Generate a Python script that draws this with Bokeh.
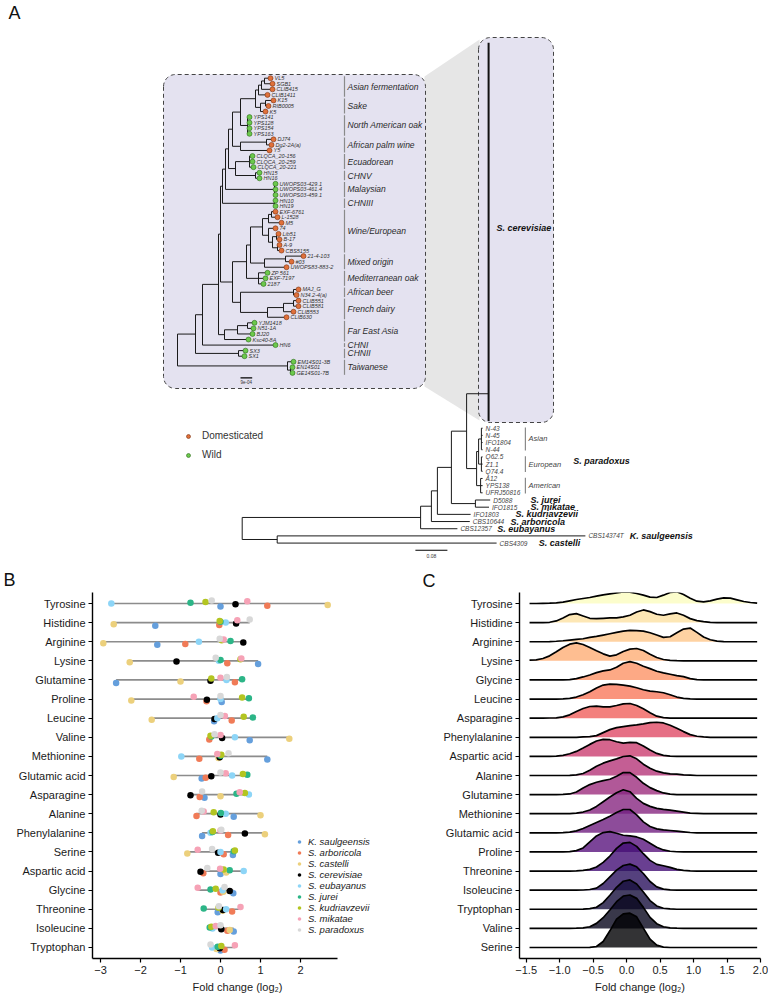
import numpy as np
from bokeh.plotting import figure
from bokeh.models import Range1d, FixedTicker, Legend, LegendItem
from bokeh.layouts import column, row
from bokeh.embed import file_html
from bokeh.resources import INLINE
from bokeh.core.properties import value
from bokeh.palettes import magma

FONT = "Liberation Sans"

# ====================== Panel A data ======================
# Inset: S. cerevisiae tree (tips top -> bottom), depth unit: 9e-04/11.7 subst/site
INSET_LEAVES = ["VL5", "SGB1", "CLIB415", "CLIB1411", "K15", "RIB0005", "K5",
                "YPS141", "YPS128", "YPS154", "YPS163", "DJ74", "Dg2-2A(a)", "Y5",
                "CLQCA_20-156", "CLQCA_20-259", "CLQCA_20-221", "HN15", "HN16",
                "UWOPS03-429.1", "UWOPS03-461.4", "UWOPS03-459.1", "HN10", "HN19",
                "EXF-6761", "L-1528", "M5", "74", "Lib51", "B-17", "A-9", "CBS5155",
                "21-4-103", "#03", "UWOPS83-883-2", "ZP 561", "EXF-7197", "2187",
                "MAJ_G", "N34.2-4(a)", "CLIB551", "CLIB581", "CLIB553", "CLIB630",
                "YJM1418", "N51-1A", "BJ20", "Ksc40-8A", "HN6", "SX3", "SX1",
                "EM14S01-3B", "EN14S01", "GE14S01-7B"]
INSET_TYPES = list("DDDDDDD" "WWWW" "DDD" "WWWWWWWWWW" "DDDDDDDDDDD" "WWW" "DDDDDD" "WWWWWWWWWW")
INSET_TIP = [93, 95, 95, 90, 96, 91, 88, 72, 72, 72, 72, 96, 94, 92, 75, 75, 76, 82, 82,
             98, 98, 98, 98, 98, 98, 100, 104, 98, 101, 102, 102, 104, 126, 114, 109,
             90, 88, 86, 121, 119, 121, 121, 116, 109, 77, 76, 75, 71, 98, 68, 67,
             116, 115, 115]
INSET_NODES = [
    ("AF1", 87, ["VL5", "SGB1"]), ("AF2", 84, ["AF1", "CLIB415"]), ("AF", 81, ["AF2", "CLIB1411"]),
    ("SK1", 88, ["K15", "RIB0005"]), ("SK", 83, ["SK1", "K5"]), ("AFS", 78, ["AF", "SK"]),
    ("NAO", 70, ["YPS141", "YPS128", "YPS154", "YPS163"]), ("ASN", 63, ["AFS", "NAO"]),
    ("APW1", 89, ["DJ74", "Dg2-2A(a)"]), ("APW", 63, ["APW1", "Y5"]), ("U1", 55, ["ASN", "APW"]),
    ("ECU", 72, ["CLQCA_20-156", "CLQCA_20-259", "CLQCA_20-221"]), ("CHNV", 78, ["HN15", "HN16"]),
    ("EC", 58, ["ECU", "CHNV"]), ("U2", 51, ["U1", "EC"]),
    ("MAL", 97, ["UWOPS03-429.1", "UWOPS03-461.4", "UWOPS03-459.1"]), ("U3", 48, ["U2", "MAL"]),
    ("CHNIII", 97, ["HN10", "HN19"]), ("U4", 45, ["U3", "CHNIII"]),
    ("W1", 94, ["EXF-6761", "L-1528"]), ("W2", 91, ["W1", "M5"]), ("W3a", 99, ["Lib51", "B-17"]),
    ("W3b", 100, ["A-9", "CBS5155"]), ("W3", 95, ["W3a", "W3b"]), ("W4", 91, ["74", "W3"]),
    ("WINE", 85, ["W2", "W4"]), ("MIX1", 108, ["21-4-103", "#03"]), ("MIX", 87, ["MIX1", "UWOPS83-883-2"]),
    ("WM", 73, ["WINE", "MIX"]), ("MED", 81, ["ZP 561", "EXF-7197", "2187"]), ("WMM", 69, ["WM", "MED"]),
    ("AB", 116, ["MAJ_G", "N34.2-4(a)"]), ("FD1", 116, ["CLIB551", "CLIB581"]),
    ("FD2", 106, ["FD1", "CLIB553"]), ("FD", 90, ["FD2", "CLIB630"]), ("ABFD", 63, ["AB", "FD"]),
    ("L1", 55, ["WMM", "ABFD"]), ("Y", 43, ["U4", "L1"]),
    ("FEA2", 70, ["YJM1418", "N51-1A"]), ("FEA1", 60, ["FEA2", "BJ20"]), ("FEA", 47, ["FEA1", "Ksc40-8A"]),
    ("X", 41, ["Y", "FEA"]), ("B202", 25, ["X", "HN6"]), ("CHNII", 61, ["SX3", "SX1"]),
    ("B195", 18, ["B202", "CHNII"]), ("TAI1", 113, ["EN14S01", "GE14S01-7B"]),
    ("TAI", 110, ["EM14S01-3B", "TAI1"]), ("ROOT", 0, ["B195", "TAI"]),
]
INSET_CLADES = [("Asian fermentation", "VL5", "CLIB1411"), ("Sake", "K15", "K5"),
                ("North American oak", "YPS141", "YPS163"), ("African palm wine", "DJ74", "Y5"),
                ("Ecuadorean", "CLQCA_20-156", "CLQCA_20-221"), ("CHNV", "HN15", "HN16"),
                ("Malaysian", "UWOPS03-429.1", "UWOPS03-459.1"), ("CHNIII", "HN10", "HN19"),
                ("Wine/European", "EXF-6761", "CBS5155"), ("Mixed origin", "21-4-103", "UWOPS83-883-2"),
                ("Mediterranean oak", "ZP 561", "2187"), ("African beer", "MAJ_G", "N34.2-4(a)"),
                ("French dairy", "CLIB551", "CLIB630"), ("Far East Asia", "YJM1418", "Ksc40-8A"),
                ("CHNI", "HN6", "HN6"), ("CHNII", "SX3", "SX1"), ("Taiwanese", "EM14S01-3B", "GE14S01-7B")]
INSET_CLADE_BAR_X = 167
INSET_SCALE = {"x": 63, "len": 11.7, "y": 53.9, "label": "9e-04"}
TYPE_NAMES = {"D": "Domesticated", "W": "Wild"}
TYPE_COLORS = {"D": ("#e0703a", "#7a3210"), "W": ("#6cc94c", "#2b6a19")}

# Main tree (substitutions/site)
MAIN_LEAVES = ["N-43", "N-45", "IFO1804", "N-44", "Q62.5", "Z1.1", "Q74.4", "A12", "YPS138",
               "UFRJ50816", "D5088", "IFO1815", "IFO1803", "CBS10644", "CBS12357", "CBS14374T", "CBS4309"]
MAIN_TIP = [0.601, 0.601, 0.601, 0.601, 0.601, 0.601, 0.601, 0.601, 0.601, 0.601,
            0.620, 0.617, 0.571, 0.569, 0.538, 0.858, 0.636]
SCER_CLADE = {"depth": 0.616, "y_top": -53.7, "y_bottom": -1.0, "stem_y": -4.8}
MAIN_NODES = [
    ("Asian", 0.598, ["N-43", "N-45", "IFO1804", "N-44"]),
    ("European", 0.598, ["Q62.5", "Z1.1", "Q74.4"]),
    ("AE", 0.591, ["Asian", "European"]),
    ("American", 0.596, ["A12", "YPS138", "UFRJ50816"]),
    ("SPAR", 0.586, ["AE", "American"]),
    ("P", 0.561, ["SCER", "SPAR"]),
    ("JM", 0.583, ["D5088", "IFO1815"]),
    ("Q", 0.523, ["P", "JM"]),
    ("R3", 0.488, ["Q", "IFO1803"]),
    ("R4", 0.473, ["R3", "CBS10644"]),
    ("R5", 0.446, ["R4", "CBS12357"]),
    ("R6", 0.0875, ["CBS14374T", "CBS4309"]),
    ("ROOT", 0.0, ["R5", "R6"]),
]
SPAR_GROUPS = [("Asian", "N-43", "N-44"), ("European", "Q62.5", "Q74.4"), ("American", "A12", "UFRJ50816")]
SPAR_BAR_X = 0.708
SPECIES_TREE_LABELS = [("S. cerevisiae", 0.636, -27.95), ("S. paradoxus", 0.8275, 4.6),
                       ("S. jurei", 0.721, 10), ("S. mikatae", 0.721, 11),
                       ("S. kudriavzevii", 0.683, 12), ("S. arboricola", 0.671, 13),
                       ("S. eubayanus", 0.6375, 14), ("K. saulgeensis", 0.969, 15),
                       ("S. castelli", 0.7415, 16)]
MAIN_SCALE = {"x": 0.433, "len": 0.08, "y": 17.0, "label": "0.08"}
PANEL_LETTERS = ["A", "B", "C"]

# ====================== Panel B data ======================
AA_B = ["Tyrosine", "Histidine", "Arginine", "Lysine", "Glutamine", "Proline", "Leucine", "Valine",
        "Methionine", "Glutamic acid", "Asparagine", "Alanine", "Phenylalanine", "Serine",
        "Aspartic acid", "Glycine", "Threonine", "Isoleucine", "Tryptophan"]
SPECIES = ["K. saulgeensis", "S. arboricola", "S. castelli", "S. cerevisiae", "S. eubayanus",
           "S. jurei", "S. kudriavzevii", "S. mikatae", "S. paradoxus"]
SPECIES_COLORS = ["#659fdc", "#f07b57", "#ecd07c", "#000000", "#8dd5f7",
                  "#2cb587", "#b3c521", "#f6a2b6", "#d8d8d8"]
FC_SAULGEENSIS = [0.0, -1.63, -1.58, 0.94, -2.61, 0.03, -0.16, 0.73, 1.17, -0.47, -0.40, 0.33, -0.46, 0.31, 0.00, 0.32, -0.07, 0.33, 0.00]
FC_ARBORICOLA = [1.17, -0.03, -0.88, 0.17, 0.36, -0.35, 0.28, -0.28, -0.53, -0.37, -0.52, -0.60, 0.19, 0.08, -0.43, 0.00, 0.29, 0.17, 0.10]
FC_CASTELLI = [2.68, -2.67, -2.93, -2.27, -1.00, -2.23, -1.72, 1.72, -0.05, -1.17, 0.00, 1.00, 1.11, -0.83, 0.14, 0.07, 0.05, 0.23, -0.10]
FC_CEREVISIAE = [0.375, 0.39, 0.57, -1.10, -0.25, -0.34, -0.15, 0.04, -0.02, -0.23, -0.75, 0.00, 0.61, -0.06, -0.50, 0.23, 0.06, 0.02, -0.02]
FC_EUBAYANUS = [-2.73, 0.13, -0.54, -0.04, 0.15, 0.00, -0.08, 0.36, -0.98, 0.29, 0.71, 0.13, -0.25, 0.00, 0.58, 0.05, 0.14, -0.20, -0.21]
FC_JUREI = [-0.75, 0.00, 0.25, 0.00, 0.54, 0.71, 0.81, -0.23, 0.00, 0.67, 0.40, 0.01, -0.20, 0.33, 0.23, -0.25, -0.42, -0.27, -0.07]
FC_KUDRIAVZEVII = [-0.375, -0.02, 0.03, 0.50, -0.23, 0.54, 0.58, -0.25, 0.02, 0.56, 0.61, -0.17, -0.19, 0.36, 0.08, -0.12, -0.05, -0.23, 0.02]
FC_MIKATAE = [0.67, 0.42, 0.08, 0.52, 0.00, -0.67, 0.11, 0.00, -0.08, 0.13, 0.48, -0.42, 0.00, -0.57, -0.01, -0.57, 0.50, -0.12, 0.36]
FC_PARADOXUS = [-0.22, 0.73, -0.02, -0.12, 0.16, 0.00, 0.00, -0.15, 0.20, 0.00, -0.46, -0.47, 0.02, -0.21, -0.33, 0.10, -0.04, 0.00, -0.25]
FC_B = [FC_SAULGEENSIS, FC_ARBORICOLA, FC_CASTELLI, FC_CEREVISIAE, FC_EUBAYANUS,
        FC_JUREI, FC_KUDRIAVZEVII, FC_MIKATAE, FC_PARADOXUS]
DODGE_WIDTH = 0.32
B_XTICKS = [-3, -2, -1, 0, 1, 2]
B_AXIS_BOUNDS = (-3.2, 2.925)

# ====================== Panel C data ======================
AA_C = ["Tyrosine", "Histidine", "Arginine", "Lysine", "Glycine", "Leucine", "Asparagine",
        "Phenylalanine", "Aspartic acid", "Alanine", "Glutamine", "Methionine", "Glutamic acid",
        "Proline", "Threonine", "Isoleucine", "Tryptophan", "Valine", "Serine"]
RIDGE_X = [-1.45, -1.35, -1.25, -1.15, -1.05, -0.95, -0.85, -0.75, -0.65, -0.55, -0.45, -0.35,
           -0.25, -0.15, -0.05, 0.05, 0.15, 0.25, 0.35, 0.45, 0.55, 0.65, 0.75, 0.85, 0.95,
           1.05, 1.15, 1.25, 1.35, 1.45, 1.55, 1.65, 1.75, 1.85, 1.95]
RIDGE_DENSITY = [
    [0, 0, 0.5, 1, 2, 4, 8, 12, 15, 18, 22, 26, 29, 32, 35, 34, 30, 25, 19, 18, 25, 33, 35, 27, 16, 7, 5, 8, 13, 17, 16, 11, 6, 3, 1],
    [0, 0, 0, 1, 5, 14, 24, 27, 20, 13, 12, 13, 14, 14, 17, 22, 32, 38, 33, 25, 22, 26, 29, 22, 12, 6, 3, 1, 0, 0, 0, 0, 0, 0, 0],
    [0, 0, 0, 0.5, 1.5, 3, 5, 7, 9, 13, 16, 20, 24, 28, 32, 34, 33, 32, 27, 20, 13, 15, 27, 38, 41, 28, 14, 6, 2, 0.5, 0, 0, 0, 0, 0],
    [2, 3, 7, 15, 27, 40, 50, 54, 49, 40, 30, 21, 14, 18, 28, 35, 37, 31, 20, 10, 4, 1.5, 0.5, 0, 0, 0, 0, 0, 0, 0, 0, 0, 0, 0, 0],
    [0, 0, 0, 0, 0, 0, 1, 4, 9, 15, 22, 27, 30, 38, 50, 55, 50, 41, 34, 26, 21, 17, 13, 10, 4, 1, 0, 0, 0, 0, 0, 0, 0, 0, 0],
    [0, 0, 0, 0, 0, 0.5, 2, 6, 13, 22, 33, 42, 45, 44, 42, 39, 34, 28, 24, 22, 19, 13, 6, 2, 0.5, 0, 0, 0, 0, 0, 0, 0, 0, 0, 0],
    [0, 0, 0, 0.5, 1, 4, 10, 20, 29, 35, 36, 34, 34, 38, 43, 44, 38, 28, 16, 6, 1.5, 0, 0, 0, 0, 0, 0, 0, 0, 0, 0, 0, 0, 0, 0],
    [0, 0, 0, 0, 0, 0, 0, 0, 1, 2, 5, 14, 23, 29, 32, 35, 37, 40, 44, 45, 43, 36, 27, 17, 8, 3, 1, 0, 0, 0, 0, 0, 0, 0, 0],
    [0, 0, 0, 0, 1, 3, 8, 15, 25, 36, 46, 51, 50, 44, 40, 42, 41, 31, 19, 9, 3, 1, 0, 0, 0, 0, 0, 0, 0, 0, 0, 0, 0, 0, 0],
    [0, 0, 0, 0, 0, 0, 0.5, 2, 6, 16, 28, 37, 44, 50, 57, 59, 50, 34, 22, 13, 8, 5, 4, 2, 1, 0, 0, 0, 0, 0, 0, 0, 0, 0, 0],
    [0, 0, 0, 0, 0, 0.5, 2, 8, 20, 30, 37, 42, 46, 55, 66, 66, 52, 34, 21, 12, 5, 1.5, 0, 0, 0, 0, 0, 0, 0, 0, 0, 0, 0, 0, 0],
    [0, 0, 0, 0, 0, 0, 0.5, 2, 5, 11, 22, 36, 50, 63, 72, 66, 46, 31, 22, 16, 13, 11, 8, 5, 2, 1, 0, 0, 0, 0, 0, 0, 0, 0, 0],
    [0, 0, 0, 0, 0, 0.5, 2, 6, 13, 22, 31, 40, 50, 61, 70, 70, 54, 33, 19, 12, 9, 7, 5, 3, 1, 0, 0, 0, 0, 0, 0, 0, 0, 0, 0],
    [0, 0, 0, 0, 0, 0, 1, 4, 12, 30, 48, 58, 61, 56, 50, 48, 45, 38, 26, 14, 6, 2, 0.5, 0, 0, 0, 0, 0, 0, 0, 0, 0, 0, 0, 0],
    [0, 0, 0, 0, 0, 0, 0, 0.5, 2, 5, 12, 26, 45, 68, 84, 86, 74, 52, 32, 20, 16, 11, 5, 2, 0.5, 0, 0, 0, 0, 0, 0, 0, 0, 0, 0],
    [0, 0, 0, 0, 0, 0, 0, 0, 0.5, 2, 6, 20, 40, 60, 74, 78, 70, 50, 26, 10, 3, 1, 0, 0, 0, 0, 0, 0, 0, 0, 0, 0, 0, 0, 0],
    [0, 0, 0, 0, 0, 0, 0, 0, 0.5, 2, 6, 20, 42, 66, 84, 88, 76, 52, 26, 10, 3, 1, 0, 0, 0, 0, 0, 0, 0, 0, 0, 0, 0, 0, 0],
    [0, 0, 0, 0, 0, 0, 0, 0.5, 1.5, 5, 15, 32, 55, 80, 97, 100, 90, 63, 33, 14, 5, 1.5, 0.5, 0, 0, 0, 0, 0, 0, 0, 0, 0, 0, 0, 0],
    [0, 0, 0, 0, 0, 0, 0, 0, 0, 0.5, 3, 18, 50, 85, 101, 103, 92, 58, 25, 7, 1, 0, 0, 0, 0, 0, 0, 0, 0, 0, 0, 0, 0, 0, 0],
]
RIDGE_SCALE = 1 / 57.3
C_XTICKS = [-1.5, -1.0, -0.5, 0.0, 0.5, 1.0, 1.5, 2.0]


# ====================== helpers ======================
def tree_layout(leaves, tips, nodes, extra=None):
    y = {n: float(i) for i, n in enumerate(leaves)}
    depth = dict(zip(leaves, tips))
    if extra:
        for k, (d, yy) in extra.items():
            depth[k] = d
            y[k] = yy
    children = {}
    for name, d, ch in nodes:
        depth[name] = d
        children[name] = ch

    def gy(n):
        if n not in y:
            y[n] = sum(gy(c) for c in children[n]) / len(children[n])
        return y[n]

    seg = dict(x0=[], y0=[], x1=[], y1=[])
    for name, d, ch in nodes:
        ys = [gy(c) for c in ch]
        seg["x0"].append(d); seg["x1"].append(d); seg["y0"].append(min(ys)); seg["y1"].append(max(ys))
        for c, yc in zip(ch, ys):
            seg["x0"].append(d); seg["x1"].append(depth[c]); seg["y0"].append(yc); seg["y1"].append(yc)
    return seg, y


def rounded_rect(x0, x1, y0, y1, r, n=10):
    xs, ys = [], []
    for cx, cy, a0 in [(x0 + r, y0 + r, 180), (x1 - r, y0 + r, 270), (x1 - r, y1 - r, 0), (x0 + r, y1 - r, 90)]:
        for t in np.linspace(np.radians(a0), np.radians(a0 + 90), n):
            xs.append(cx + r * np.cos(t)); ys.append(cy + r * np.sin(t))
    return xs, ys


def style_axes(p):
    p.grid.visible = False
    p.outline_line_color = None
    for ax in (p.xaxis, p.yaxis):
        ax.axis_line_width = 1.4
        ax.axis_line_color = "black"
        ax.major_tick_line_color = "black"
        ax.major_tick_line_width = 1.2
        ax.major_tick_out = 4
        ax.major_tick_in = 0
        ax.minor_tick_line_color = None
        ax.major_label_text_font = FONT
        ax.major_label_text_font_size = "11px"
        ax.major_label_text_color = "#1a1a1a"
        ax.major_label_standoff = 3
    p.xaxis.axis_label_text_font = FONT
    p.xaxis.axis_label_text_font_size = "11px"
    p.xaxis.axis_label_text_font_style = "normal"
    p.xaxis.axis_label_text_color = "#1a1a1a"
    p.xaxis.axis_label_standoff = 4


# ====================== Panel A (also carries the B / C panel letters) ======================
HA = 592
pA = figure(width=768, height=HA, x_range=Range1d(0, 768), y_range=Range1d(HA, 0),
            output_backend="svg", toolbar_location=None, min_border=0,
            x_axis_type=None, y_axis_type=None)
pA.outline_line_color = None
pA.xgrid.visible = False
pA.ygrid.visible = False
pA.extra_x_ranges = {"itx": Range1d(-177, 591), "mtx": Range1d(-0.60425, 1.31575)}
pA.extra_y_ranges = {"ity": Range1d((HA - 77.7) / 5.56, -77.7 / 5.56),
                     "mty": Range1d((HA - 427.7) / 7.18, -427.7 / 7.18)}

# zoom funnel and boxes (decoration)
pA.patch([424, 479, 479, 424], [76, 39, 420, 386], fill_color="#e6e6e6", line_color=None)
for (bx0, bx1, by0, by1) in [(478, 553, 37, 422), (163, 425, 74, 388)]:
    xs, ys = rounded_rect(bx0, bx1, by0, by1, 12)
    pA.patch(xs, ys, fill_color="#e4e2f0", line_color="#444444", line_width=1, line_dash="4 3")

# inset tree
iseg, iy = tree_layout(INSET_LEAVES, INSET_TIP, INSET_NODES)
pA.segment(x0="x0", y0="y0", x1="x1", y1="y1", source=iseg, line_color="#1a1a1a", line_width=1,
           x_range_name="itx", y_range_name="ity")
renderers_type = {}
for t in ["D", "W"]:
    idx = [i for i, tt in enumerate(INSET_TYPES) if tt == t]
    r = pA.scatter([INSET_TIP[i] for i in idx], [float(i) for i in idx], size=5,
                   fill_color=TYPE_COLORS[t][0], line_color=TYPE_COLORS[t][1], line_width=0.6,
                   x_range_name="itx", y_range_name="ity")
    renderers_type[t] = r
pA.text([t + 4 for t in INSET_TIP], list(range(len(INSET_LEAVES))), text=INSET_LEAVES,
        text_font=value(FONT), text_font_size="5.5px", text_font_style="italic",
        text_color="#333333", text_baseline="middle", x_range_name="itx", y_range_name="ity")
cb = dict(x0=[], y0=[], x1=[], y1=[])
ct = dict(x=[], y=[], t=[])
for name, a, b in INSET_CLADES:
    cb["x0"].append(INSET_CLADE_BAR_X); cb["x1"].append(INSET_CLADE_BAR_X)
    cb["y0"].append(iy[a] - 0.35); cb["y1"].append(iy[b] + 0.35)
    ct["x"].append(INSET_CLADE_BAR_X + 3); ct["y"].append((iy[a] + iy[b]) / 2); ct["t"].append(name)
pA.segment(x0="x0", y0="y0", x1="x1", y1="y1", source=cb, line_color="#8a8a8a", line_width=1.2,
           x_range_name="itx", y_range_name="ity")
pA.text(x="x", y="y", text="t", source=ct, text_font=value(FONT), text_font_size="8.5px",
        text_font_style="italic", text_color="#2a2a2a", text_baseline="middle",
        x_range_name="itx", y_range_name="ity")
pA.segment([INSET_SCALE["x"]], [INSET_SCALE["y"]], [INSET_SCALE["x"] + INSET_SCALE["len"]],
           [INSET_SCALE["y"]], line_color="black", line_width=1.2, x_range_name="itx", y_range_name="ity")
pA.text([INSET_SCALE["x"] + INSET_SCALE["len"] / 2], [INSET_SCALE["y"] + 0.7], text=[INSET_SCALE["label"]],
        text_font=value(FONT), text_font_size="4.5px", text_align="center", text_baseline="middle",
        text_color="#333333", x_range_name="itx", y_range_name="ity")

# main tree
mseg, my = tree_layout(MAIN_LEAVES, MAIN_TIP, MAIN_NODES,
                       extra={"SCER": (SCER_CLADE["depth"], SCER_CLADE["stem_y"])})
pA.segment(x0="x0", y0="y0", x1="x1", y1="y1", source=mseg, line_color="#1a1a1a", line_width=1,
           x_range_name="mtx", y_range_name="mty")
pA.segment([SCER_CLADE["depth"]], [SCER_CLADE["y_top"]], [SCER_CLADE["depth"]], [SCER_CLADE["y_bottom"]],
           line_color="#111111", line_width=2, x_range_name="mtx", y_range_name="mty")
pA.text([t + 0.0075 for t in MAIN_TIP], list(range(len(MAIN_LEAVES))), text=MAIN_LEAVES,
        text_font=value(FONT), text_font_size="6.5px", text_font_style="italic", text_color="#444444",
        text_baseline="middle", x_range_name="mtx", y_range_name="mty")
gb = dict(x0=[], y0=[], x1=[], y1=[])
gt = dict(x=[], y=[], t=[])
for name, a, b in SPAR_GROUPS:
    gb["x0"].append(SPAR_BAR_X); gb["x1"].append(SPAR_BAR_X)
    gb["y0"].append(my[a] - 0.1); gb["y1"].append(my[b] + 0.1)
    gt["x"].append(SPAR_BAR_X + 0.008); gt["y"].append((my[a] + my[b]) / 2); gt["t"].append(name)
pA.segment(x0="x0", y0="y0", x1="x1", y1="y1", source=gb, line_color="#8a8a8a", line_width=1.2,
           x_range_name="mtx", y_range_name="mty")
pA.text(x="x", y="y", text="t", source=gt, text_font=value(FONT), text_font_size="7.5px",
        text_font_style="italic", text_color="#444444", text_baseline="middle",
        x_range_name="mtx", y_range_name="mty")
pA.text([s[1] for s in SPECIES_TREE_LABELS], [s[2] for s in SPECIES_TREE_LABELS],
        text=[s[0] for s in SPECIES_TREE_LABELS], text_font=value(FONT), text_font_size="9px",
        text_font_style="bold italic", text_color="#111111", text_baseline="middle",
        x_range_name="mtx", y_range_name="mty")
pA.segment([MAIN_SCALE["x"]], [MAIN_SCALE["y"]], [MAIN_SCALE["x"] + MAIN_SCALE["len"]], [MAIN_SCALE["y"]],
           line_color="black", line_width=1.2, x_range_name="mtx", y_range_name="mty")
pA.text([MAIN_SCALE["x"] + MAIN_SCALE["len"] / 2], [MAIN_SCALE["y"] + 0.8], text=[MAIN_SCALE["label"]],
        text_font=value(FONT), text_font_size="5px", text_align="center", text_baseline="middle",
        text_color="#333333", x_range_name="mtx", y_range_name="mty")

legA = Legend(items=[LegendItem(label=TYPE_NAMES[t], renderers=[renderers_type[t]]) for t in ["D", "W"]],
              location=(183, HA - 460), glyph_width=10, glyph_height=10, label_height=10, spacing=8,
              label_standoff=9, label_text_font=FONT, label_text_font_size="10px",
              label_text_color="#333333", padding=0, margin=0, border_line_color=None,
              background_fill_alpha=0)
pA.add_layout(legA)
# panel letters (page layout positions)
pA.text([8, 3, 422], [12, 579, 580], text=PANEL_LETTERS, text_font=value(FONT), text_font_size="18px",
        text_baseline="middle", text_color="#111111")

# ====================== Panel B ======================
NROW = len(AA_B)
pB = figure(width=384, height=1000 - HA, x_range=Range1d(-3.2, 4.05), y_range=Range1d(-0.576, NROW - 0.424),
            output_backend="svg", toolbar_location=None, min_border_left=92, min_border_right=2,
            min_border_top=0, min_border_bottom=42)
style_axes(pB)
pB.xaxis.bounds = B_AXIS_BOUNDS
rows_b = [NROW - 1 - i for i in range(NROW)]
lo = [min(vals[i] for vals in FC_B) for i in range(NROW)]
hi = [max(vals[i] for vals in FC_B) for i in range(NROW)]
pB.segment(x0=lo, y0=rows_b, x1=hi, y1=rows_b, line_color="#8c8c8c", line_width=1.7)
legend_items = []
for k, (sp, col, vals) in enumerate(zip(SPECIES, SPECIES_COLORS, FC_B)):
    off = (k - (len(SPECIES) - 1) / 2) / (len(SPECIES) - 1) * DODGE_WIDTH
    r = pB.scatter(vals, [yy + off for yy in rows_b], size=6.5, fill_color=col, line_color=None)
    legend_items.append(LegendItem(label=sp, renderers=[r]))
legB = Legend(items=legend_items, location=(202, 23), glyph_width=10, glyph_height=9, label_height=9,
              spacing=0, label_standoff=4, label_text_font=FONT, label_text_font_size="9.5px",
              label_text_font_style="italic", label_text_color="#1a1a1a", padding=0, margin=0,
              border_line_color=None, background_fill_alpha=0)
pB.add_layout(legB)
pB.yaxis.ticker = FixedTicker(ticks=rows_b)
pB.yaxis.major_label_overrides = {NROW - 1 - i: n for i, n in enumerate(AA_B)}
pB.xaxis.ticker = FixedTicker(ticks=B_XTICKS)
pB.xaxis.major_label_overrides = {v: (("\u2212%d" % -v) if v < 0 else "%d" % v) for v in B_XTICKS}
pB.xaxis.axis_label = "Fold change (log\u2082)"

# ====================== Panel C ======================
pC = figure(width=384, height=1000 - HA, x_range=Range1d(-1.6, 2.0), y_range=Range1d(-0.576, NROW - 0.424),
            output_backend="svg", toolbar_location=None, min_border_left=135, min_border_right=8,
            min_border_top=0, min_border_bottom=42)
style_axes(pC)
pal = magma(NROW)
for i, (aa, dens) in enumerate(zip(AA_C, RIDGE_DENSITY)):
    base = NROW - 1 - i
    top = [base + d * RIDGE_SCALE for d in dens]
    pC.varea(x=RIDGE_X, y1=[base] * len(RIDGE_X), y2=top, fill_color=pal[NROW - 1 - i], fill_alpha=0.8)
    pC.line(RIDGE_X, top, line_color="black", line_width=1.7)
pC.yaxis.ticker = FixedTicker(ticks=[NROW - 1 - i for i in range(NROW)])
pC.yaxis.major_label_overrides = {NROW - 1 - i: n for i, n in enumerate(AA_C)}
pC.xaxis.ticker = FixedTicker(ticks=C_XTICKS)
pC.xaxis.major_label_overrides = {v: (("\u2212%.1f" % -v) if v < 0 else "%.1f" % v) for v in C_XTICKS}
pC.xaxis.axis_label = "Fold change (log\u2082)"

layout = column(pA, row(pB, pC))
open("out.html", "w").write(file_html(layout, INLINE, title="Figure"))
